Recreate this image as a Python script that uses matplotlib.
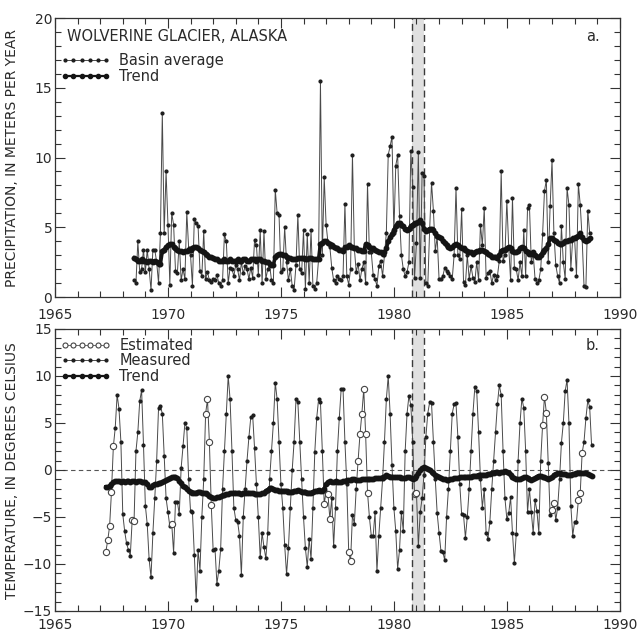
import numpy as np
import matplotlib
matplotlib.use("Agg")
import matplotlib.pyplot as plt
from matplotlib.lines import Line2D
from matplotlib.ticker import MultipleLocator

# monthly values, one row per year (t = year + month_index/12)
# precipitation starts 1968, month index 6
precip = [
    1.2, 1.0, 4.0, 1.8, 2.0, 3.4,                                  # 1968
    1.8, 3.4, 2.0, 0.5, 3.4, 3.4, 2.5, 1.0, 4.6, 13.2, 4.6, 9.0,   # 1969
    5.2, 0.9, 6.0, 5.2, 1.9, 1.7, 4.0, 1.2, 2.0, 1.3, 6.1, 3.5,    # 1970
    3.0, 0.8, 5.6, 5.3, 5.1, 1.9, 1.5, 4.7, 1.3, 1.8, 1.2, 1.1,    # 1971
    1.3, 1.2, 1.6, 1.0, 0.8, 1.2, 4.5, 4.0, 1.0, 2.1, 2.0, 1.5,    # 1972
    2.3, 2.0, 1.2, 2.5, 1.7, 2.2, 2.0, 1.3, 2.1, 1.4, 4.1, 3.7,    # 1973
    1.6, 4.8, 1.0, 4.7, 1.3, 2.0, 2.3, 1.2, 1.0, 7.7, 6.0, 5.9,    # 1974
    1.8, 2.0, 5.0, 2.5, 1.2, 2.0, 0.8, 0.5, 2.3, 5.9, 2.0, 1.7,    # 1975
    4.8, 0.6, 4.5, 1.0, 4.8, 0.8, 0.6, 1.0, 2.7, 15.5, 3.0, 8.6,   # 1976
    5.2, 3.9, 3.6, 2.1, 1.2, 1.0, 1.5, 1.3, 1.2, 1.5, 6.7, 1.5,    # 1977
    0.9, 2.0, 10.2, 3.5, 1.8, 2.4, 1.2, 2.0, 2.5, 1.0, 8.1, 3.2,   # 1978
    3.2, 1.6, 1.3, 0.8, 2.2, 2.6, 1.5, 3.0, 4.6, 10.2, 10.8, 11.5, # 1979
    4.6, 9.4, 10.2, 5.8, 3.0, 2.0, 1.5, 1.8, 2.5, 10.5, 7.9, 1.4,  # 1980
    3.9, 10.4, 1.4, 8.9, 8.7, 1.0, 0.8, 4.8, 8.2, 6.2, 3.3, 4.3,   # 1981
    1.3, 1.3, 1.5, 2.1, 1.9, 1.7, 1.5, 1.3, 3.0, 7.8, 3.0, 2.7,    # 1982
    6.3, 1.1, 0.9, 3.0, 1.3, 2.2, 1.4, 1.1, 2.5, 1.2, 5.2, 3.7,    # 1983
    6.4, 1.4, 1.7, 1.9, 1.0, 1.6, 1.2, 1.5, 2.6, 9.0, 2.6, 3.0,    # 1984
    6.9, 3.6, 1.2, 7.1, 2.1, 2.0, 1.2, 2.5, 1.5, 4.8, 1.5, 6.4,    # 1985
    6.6, 2.5, 3.1, 1.3, 1.0, 1.2, 2.0, 4.5, 7.6, 8.4, 2.5, 6.5,    # 1986
    9.8, 4.6, 2.3, 1.5, 1.0, 5.1, 2.5, 1.3, 7.8, 6.6, 2.0, 4.2,    # 1987
    4.2, 1.5, 8.1, 6.6, 4.2, 0.8, 0.7, 6.2, 4.6,                   # 1988
]
precip_trend = [
    2.8, 2.7, 2.6, 2.6, 2.7, 2.6,
    2.6, 2.5, 2.6, 2.6, 2.5, 2.6, 2.5, 2.4, 2.4, 3.3, 3.4, 3.6,
    3.7, 3.8, 3.8, 3.6, 3.5, 3.4, 3.3, 3.3, 3.2, 3.3, 3.3, 3.4,
    3.4, 3.5, 3.6, 3.6, 3.5, 3.4, 3.3, 3.2, 3.1, 3.0, 2.9, 2.9,
    2.8, 2.7, 2.7, 2.6, 2.6, 2.6, 2.7, 2.6, 2.6, 2.7, 2.6, 2.6,
    2.6, 2.7, 2.6, 2.6, 2.7, 2.7, 2.6, 2.6, 2.7, 2.7, 2.7, 2.6,
    2.7, 2.7, 2.6, 2.6, 2.5, 2.5, 2.4, 2.3, 2.3, 2.9, 3.0, 3.1,
    3.1, 3.0, 3.0, 2.9, 2.8, 2.8, 2.7, 2.7, 2.7, 2.8, 2.8, 2.8,
    2.8, 2.7, 2.7, 2.8, 2.8, 2.7, 2.7, 2.7, 2.7, 3.8, 3.9, 4.0,
    4.0, 3.9, 3.8, 3.7, 3.6, 3.5, 3.5, 3.4, 3.4, 3.3, 3.6, 3.6,
    3.7, 3.6, 3.6, 3.5, 3.5, 3.4, 3.4, 3.3, 3.3, 3.8, 3.7, 3.6,
    3.5, 3.5, 3.4, 3.3, 3.2, 3.2, 3.1, 3.2, 3.5, 4.0, 4.3, 4.5,
    4.8, 5.1, 5.3, 5.3, 5.2, 5.1, 4.9, 4.8, 4.9, 5.1, 5.2, 5.3,
    5.3, 5.4, 5.5, 5.3, 4.9, 4.7, 4.8, 4.9, 4.9, 4.8, 4.6, 4.4,
    4.3, 4.2, 4.0, 3.9, 3.7, 3.6, 3.5, 3.6, 3.7, 3.8, 3.7, 3.6,
    3.5, 3.5, 3.4, 3.3, 3.2, 3.2, 3.1, 3.2, 3.3, 3.3, 3.4, 3.4,
    3.3, 3.2, 3.1, 3.0, 2.9, 2.9, 2.9, 2.8, 3.0, 3.3, 3.4, 3.4,
    3.5, 3.6, 3.5, 3.3, 3.2, 3.2, 3.3, 3.5, 3.6, 3.5, 3.3, 3.2,
    3.1, 3.1, 3.2, 3.0, 2.9, 2.9, 3.0, 3.2, 3.4, 3.5, 3.8, 4.2,
    4.2, 4.1, 4.0, 3.9, 3.8, 3.8, 3.9, 4.0, 4.0, 4.1, 4.1, 4.2,
    4.2, 4.3, 4.4, 4.6, 4.3, 4.1, 4.0, 4.1, 4.2,
]
precip_start = 1968 + 6 / 12

# temperature starts 1967, month index 3
temp = [
    -8.7, -7.5, -6.0, -2.3, 2.5, 4.5, 8.0, 6.5, 3.0,                       # 1967
    -4.7, -6.5, -7.8, -8.5, -9.1, -5.3, -5.4, 2.0, 4.0, 7.3, 8.5, 2.7,      # 1968
    -3.8, -5.8, -9.5, -11.4, -6.7, -3.0, 1.0, 6.6, 6.8, 6.0, 1.5, -3.0,     # 1969
    -4.5, -6.0, -5.7, -8.8, -3.4, -3.4, -4.7, 0.2, 2.5, 5.0, 4.5, -1.0,     # 1970
    -4.4, -4.5, -9.0, -13.8, -8.5, -10.7, -5.0, -1.0, 6.0, 7.5, 3.0, -3.7,  # 1971
    -8.5, -8.4, -12.1, -10.7, -8.4, -2.0, 2.0, 6.0, 10.0, 7.5, 2.0, -4.0,   # 1972
    -5.3, -5.5, -7.0, -11.2, -5.0, -2.0, 1.0, 3.5, 5.6, 5.8, 2.3, -1.5,     # 1973
    -5.0, -9.3, -6.7, -8.2, -9.4, -6.7, -1.0, 2.0, 5.0, 9.3, 7.5, 3.0,      # 1974
    -1.5, -4.0, -8.0, -11.1, -8.3, -4.0, 0.0, 3.0, 7.5, 7.2, 3.0, -1.0,     # 1975
    -5.0, -8.3, -10.3, -7.3, -9.5, -4.0, 1.9, 5.5, 7.5, 7.2, 2.0, -3.6,     # 1976
    -2.3, -2.6, -5.2, -3.0, -8.1, -4.0, 2.0, 5.5, 8.6, 8.6, 3.0, -1.5,      # 1977
    -8.7, -9.7, -4.8, -5.7, -2.0, 1.0, 3.8, 6.0, 8.6, 3.8, -2.4, -5.0,      # 1978
    -7.0, -7.0, -4.5, -10.8, -7.0, -4.0, -1.0, 3.0, 7.5, 10.0, 6.0, 0.5,    # 1979
    -4.0, -6.5, -10.5, -8.5, -4.5, -6.5, 2.0, 6.0, 7.9, 6.9, 3.0, -2.6,     # 1980
    -2.4, -8.1, -4.5, -3.0, -0.5, 3.5, 6.0, 7.2, 7.1, 3.0, -1.0, -4.6,      # 1981
    -6.7, -8.6, -8.7, -9.6, -5.0, -2.0, 2.0, 6.0, 7.0, 7.1, 3.5, -1.5,      # 1982
    -4.7, -4.8, -7.2, -5.0, -2.0, 2.0, 6.0, 8.8, 8.4, 4.0, -1.0, -4.0,      # 1983
    -2.0, -6.7, -7.3, -5.5, -2.0, 1.0, 4.0, 7.0, 9.0, 8.0, 2.0, -3.0,       # 1984
    -5.2, -4.6, -2.9, -6.7, -9.9, -6.8, 1.0, 5.0, 7.6, 6.6, 2.0, -4.5,      # 1985
    -2.0, -4.5, -6.7, -3.2, -4.4, -6.7, 1.0, 4.8, 7.8, 6.1, 0.7, -4.8,      # 1986
    -4.3, -3.5, -5.3, -4.0, -1.0, 2.9, 5.0, 8.4, 9.6, 5.0, -3.8, -7.0,      # 1987
    -5.5, -5.5, -3.2, -2.4, 1.8, 3.0, 5.5, 7.4, 6.7, 2.7,                   # 1988
]
temp_trend = [
    -1.8, -1.8, -1.7, -1.5, -1.3, -1.2, -1.2, -1.2, -1.3,
    -1.2, -1.3, -1.2, -1.2, -1.3, -1.2, -1.2, -1.3, -1.2, -1.2, -1.3, -1.3,
    -1.3, -1.5, -1.8, -1.8, -1.6, -1.5, -1.5, -1.4, -1.4, -1.3, -1.2, -1.1,
    -1.0, -0.9, -0.8, -0.7, -0.8, -0.9, -1.2, -1.4, -1.7, -1.8, -2.0, -2.2,
    -2.3, -2.4, -2.4, -2.4, -2.3, -2.3, -2.4, -2.4, -2.5, -2.6, -2.8, -2.9,
    -3.0, -3.0, -2.9, -2.9, -2.8, -2.7, -2.7, -2.6, -2.6, -2.5, -2.5, -2.4,
    -2.4, -2.5, -2.5, -2.6, -2.5, -2.5, -2.4, -2.4, -2.5, -2.5, -2.6, -2.6,
    -2.6, -2.6, -2.5, -2.4, -2.2, -2.1, -1.9, -1.9, -2.0, -2.1, -2.1, -2.2,
    -2.2, -2.2, -2.2, -2.2, -2.3, -2.3, -2.3, -2.2, -2.2, -2.1, -2.2, -2.3,
    -2.3, -2.3, -2.4, -2.4, -2.4, -2.3, -2.2, -2.2, -2.1, -2.2, -2.2, -2.0,
    -1.5, -1.3, -1.2, -1.3, -1.3, -1.2, -1.3, -1.3, -1.3, -1.2, -1.2, -1.1,
    -1.1, -1.1, -1.0, -1.0, -1.1, -1.1, -1.1, -1.0, -1.0, -1.0, -1.0, -1.0,
    -1.0, -1.0, -0.9, -0.9, -0.9, -0.9, -0.8, -0.7, -0.5, -0.6, -0.7, -0.7,
    -0.8, -0.8, -0.8, -0.8, -0.9, -0.9, -0.9, -0.8, -0.8, -0.9, -1.0, -0.9,
    -0.6, -0.3, 0.0, 0.2, 0.3, 0.2, 0.1, 0.0, -0.2, -0.3, -0.5, -0.6,
    -0.8, -0.9, -1.0, -1.0, -1.1, -1.1, -1.0, -1.0, -0.9, -0.9, -0.9, -0.8,
    -0.8, -0.8, -0.8, -0.7, -0.7, -0.7, -0.6, -0.6, -0.6, -0.5, -0.5, -0.5,
    -0.5, -0.5, -0.4, -0.4, -0.3, -0.3, -0.2, -0.2, -0.3, -0.2, -0.2, -0.1,
    -0.2, -0.3, -0.5, -0.7, -0.9, -1.0, -1.0, -1.0, -0.9, -0.8, -0.8, -0.9,
    -1.0, -1.1, -1.0, -0.9, -0.7, -0.6, -0.6, -0.7, -0.8, -0.9, -1.0, -0.9,
    -0.8, -0.5, -0.4, -0.3, -0.3, -0.4, -0.4, -0.4, -0.5, -0.5, -0.5, -0.4,
    -0.4, -0.3, -0.3, -0.3, -0.3, -0.3, -0.3, -0.4, -0.5, -0.6,
]
temp_start = 1967 + 3 / 12
# (year, month index) of the estimated temperatures
temp_estimated = [
    (1967, 3), (1967, 4), (1967, 5), (1967, 6), (1967, 7),
    (1968, 5), (1968, 6), (1970, 2),
    (1971, 8), (1971, 9), (1971, 10), (1971, 11),
    (1976, 11), (1977, 1), (1977, 2),
    (1978, 0), (1978, 1), (1978, 5), (1978, 6), (1978, 7), (1978, 8), (1978, 9), (1978, 10),
    (1980, 11), (1981, 0),
    (1986, 7), (1986, 8), (1986, 9),
    (1987, 0), (1987, 1),
    (1988, 2), (1988, 3), (1988, 4),
]
gap_years = (1980.82, 1981.35)

ink = "#2a2a2a"
plt.rcParams["font.family"] = ["DejaVu Sans"]
plt.rcParams["text.color"] = ink
plt.rcParams["axes.edgecolor"] = "#333333"
plt.rcParams["xtick.color"] = "#333333"
plt.rcParams["ytick.color"] = "#333333"
plt.rcParams["xtick.labelcolor"] = ink
plt.rcParams["ytick.labelcolor"] = ink

t_p = precip_start + np.arange(len(precip)) / 12
t_t = temp_start + np.arange(len(temp)) / 12
t_est = np.array([y + m / 12 for y, m in temp_estimated])
v_est = np.array([temp[int(round((t - temp_start) * 12))] for t in t_est])

fig = plt.figure(figsize=(6.44, 6.43), dpi=100)
ax1 = fig.add_axes([0.0854, 0.538, 0.877, 0.434])
ax2 = fig.add_axes([0.0854, 0.0498, 0.877, 0.4386])


def style(ax, ymin, ymax):
    ax.set_xlim(1965, 1990)
    ax.set_ylim(ymin, ymax)
    ax.xaxis.set_major_locator(MultipleLocator(5))
    ax.xaxis.set_minor_locator(MultipleLocator(1))
    ax.yaxis.set_major_locator(MultipleLocator(5))
    ax.yaxis.set_minor_locator(MultipleLocator(1))
    ax.tick_params(which="both", direction="in", top=True, right=True, labelsize=10, width=0.8)
    ax.tick_params(which="major", length=7)
    ax.tick_params(which="minor", length=4)
    ax.tick_params(axis="x", pad=5)
    ax.tick_params(axis="y", pad=2)
    for s in ax.spines.values():
        s.set_linewidth(0.9)
    ax.axvspan(*gap_years, color="#e0e0e0", lw=0, zorder=0)
    for gx in gap_years:
        ax.axvline(gx, color="#3a3a3a", lw=1.0, ls=(0, (5, 3)), zorder=1)


style(ax1, 0, 20)
style(ax2, -15, 15)
ax1.tick_params(axis="x", pad=8)
ax2.set_yticks([-15, -10, -5, 0, 5, 10, 15])
ax2.set_yticklabels(["\u221215", "\u221210", "\u22125", "0", "5", "10", "15"])

data_kw = dict(color="#4a4a4a", lw=0.7, marker="o", ms=2.0, mfc="#1e1e1e", mec="#1e1e1e", zorder=3)
trend_kw = dict(color="#141414", lw=2.6, marker="o", ms=3.2, mfc="#141414", mec="#141414", zorder=4)

# panel a
ax1.plot(t_p, precip, **data_kw)
ax1.plot(t_p, precip_trend, **trend_kw)
ax1.text(0.022, 0.935, "WOLVERINE GLACIER, ALASKA", transform=ax1.transAxes,
         fontsize=10.5, va="center", ha="left")
ax1.text(0.965, 0.935, "a.", transform=ax1.transAxes, fontsize=10.5, va="center", ha="right")
h1 = [Line2D([], [], **data_kw), Line2D([], [], **dict(trend_kw, lw=1.6, ms=3.0))]
ax1.legend(h1, ["Basin average", "Trend"], loc="upper left", bbox_to_anchor=(-0.005, 0.905),
           frameon=False, fontsize=10.5, handlelength=3.4, handletextpad=0.6,
           labelspacing=0.05, numpoints=6, borderaxespad=0.2)

# panel b
ax2.axhline(0, color="#555555", lw=0.8, ls=(0, (4, 3)), zorder=1)
ax2.plot(t_t, temp, **data_kw)
ax2.plot(t_est, v_est, ls="none", marker="o", ms=4.5, mfc="white", mec="#444444", mew=0.8, zorder=5)
ax2.plot(t_t, temp_trend, **trend_kw)
ax2.text(0.965, 0.94, "b.", transform=ax2.transAxes, fontsize=10.5, va="center", ha="right")
est_h = Line2D([], [], color="#555555", lw=0.6, marker="o", ms=3.6, mfc="white", mec="#444444", mew=0.8)
h2 = [est_h, Line2D([], [], **data_kw), Line2D([], [], **dict(trend_kw, lw=1.6, ms=3.0))]
ax2.legend(h2, ["Estimated", "Measured", "Trend"], loc="upper left", bbox_to_anchor=(-0.005, 1.0),
           frameon=False, fontsize=10.5, handlelength=3.4, handletextpad=0.6,
           labelspacing=0.05, numpoints=6, borderaxespad=0.2)

fig.text(0.018, 0.755, "PRECIPITATION, IN METERS PER YEAR", rotation=90,
         fontsize=10, ha="center", va="center")
fig.text(0.018, 0.268, "TEMPERATURE, IN DEGREES CELSIUS", rotation=90,
         fontsize=10, ha="center", va="center")

fig.savefig("out.png", dpi=100)
